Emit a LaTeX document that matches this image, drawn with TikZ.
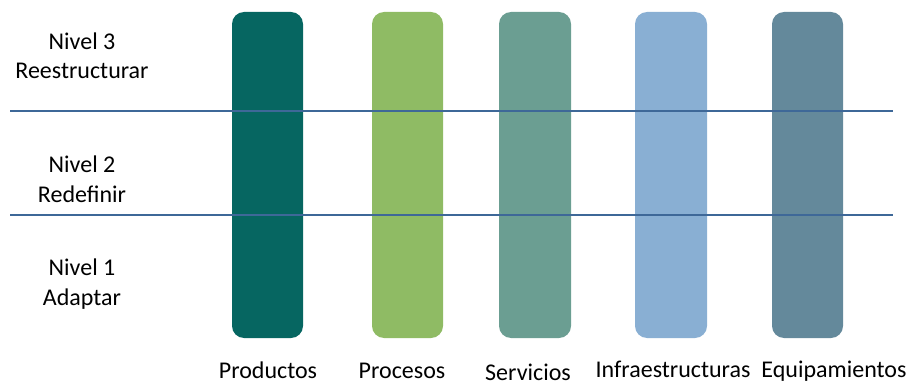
\documentclass[tikz,border=0pt]{standalone}
\usepackage{fontspec}
\setmainfont{Carlito}
\definecolor{cA}{HTML}{066661}
\definecolor{cB}{HTML}{8FBB64}
\definecolor{cC}{HTML}{6B9E92}
\definecolor{cD}{HTML}{89AFD3}
\definecolor{cE}{HTML}{64899B}
\definecolor{lineblue}{HTML}{3E6898}
\begin{document}
\begin{tikzpicture}[x=1pt,y=-1pt,
  bar/.style={rounded corners=12pt, draw=none},
  lab/.style={font=\fontsize{24}{29}\selectfont, text=black, anchor=base, inner sep=0pt},
  sep/.style={draw=lineblue, line width=2pt}]
\useasboundingbox (0,0) rectangle (910,385);
\fill[bar, cA] (232,12) rectangle (303,338);
\fill[bar, cB] (372,12) rectangle (443,338);
\fill[bar, cC] (499,12) rectangle (571,338);
\fill[bar, cD] (635,12) rectangle (707,338);
\fill[bar, cE] (772,12) rectangle (843,338);
\coordinate (l1a) at (10,111);
\coordinate (l1b) at (893,111);
\coordinate (l2a) at (10,215);
\coordinate (l2b) at (893,215);
\draw[sep] (l1a) -- (l1b);
\draw[sep] (l2a) -- (l2b);
\node[lab] (n3a) at (82,50) {Nivel 3};
\node[lab] (n3b) at (82,79) {Reestructurar};
\node[lab] (n2a) at (82,172) {Nivel 2};
\node[lab] (n2b) at (82,202) {Redefinir};
\node[lab] (n1a) at (82,275) {Nivel 1};
\node[lab] (n1b) at (82,305) {Adaptar};
\node[lab] (p1) at (268,378) {Productos};
\node[lab] (p2) at (402,378) {Procesos};
\node[lab] (p3) at (528,380) {Servicios};
\node[lab] (p4) at (673,377) {Infraestructuras};
\node[lab] (p5) at (834,377) {Equipamientos};
\end{tikzpicture}
\end{document}
